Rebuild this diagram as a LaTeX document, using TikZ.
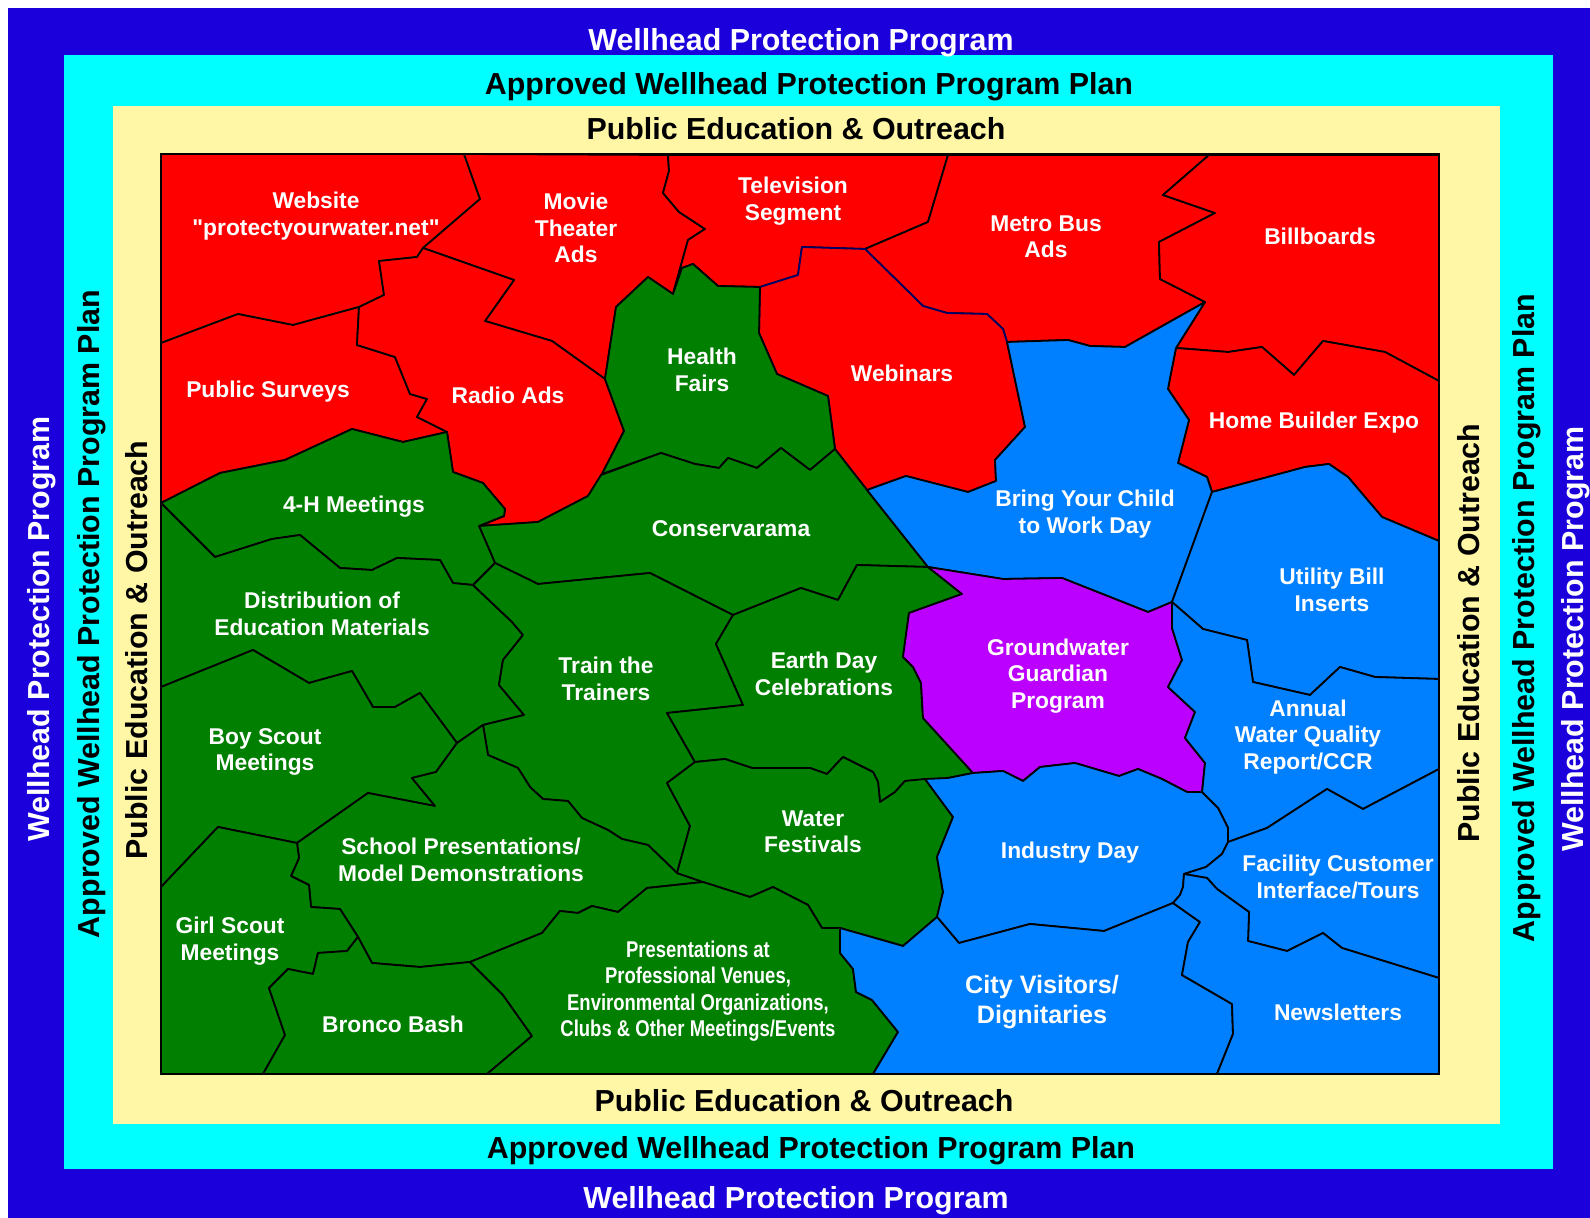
\documentclass[tikz,border=0pt]{standalone}
\usepackage{fontspec}
\setmainfont{Liberation Sans}
\newfontfamily\narrowsans[FakeStretch=0.81]{Liberation Sans}

\definecolor{wppblue}{HTML}{1B00DC}
\definecolor{plancyan}{HTML}{00FFFF}
\definecolor{pubyellow}{HTML}{FFF7A6}
\definecolor{mapred}{HTML}{FF0000}
\definecolor{mapgreen}{HTML}{007F00}
\definecolor{mapblue}{HTML}{0080FF}
\definecolor{mappurple}{HTML}{BB00FF}

\begin{document}
\begin{tikzpicture}[x=0.5pt,y=-0.5pt,
  zone/.style={draw=black, line width=0.9pt, line join=round},
  redzone/.style={zone, fill=mapred},
  greenzone/.style={zone, fill=mapgreen},
  bluezone/.style={zone, fill=mapblue},
  lbl/.style={text=white, font=\bfseries\fontsize{11.4}{13.2}\selectfont, align=center, inner sep=0pt},
  band/.style={font=\bfseries\fontsize{15.2}{18}\selectfont, inner sep=0pt}]
\useasboundingbox (0,0) rectangle (1590,1218);

% nested program frames
\fill[wppblue] (8,8) rectangle (1590,1218);
\fill[plancyan] (64,55) rectangle (1553,1169);
\fill[pubyellow] (113,106) rectangle (1500,1124);

\node[band, text=white] (wpptop) at (801,43) {Wellhead Protection Program};
\node[band, text=white] (wppbot) at (796,1201) {Wellhead Protection Program};
\node[band, text=white, rotate=90] (wppleft) at (42,629) {Wellhead Protection Program};
\node[band, text=white, rotate=90] (wppright) at (1576,639) {Wellhead Protection Program};
\node[band] (plantop) at (809,87) {Approved Wellhead Protection Program Plan};
\node[band] (planbot) at (811,1151) {Approved Wellhead Protection Program Plan};
\node[band, rotate=90] (planleft) at (92,614) {Approved Wellhead Protection Program Plan};
\node[band, rotate=90] (planright) at (1527,618) {Approved Wellhead Protection Program Plan};
\node[band] (pubtop) at (796,129) {Public Education \& Outreach};
\node[band] (pubbot) at (804,1101) {Public Education \& Outreach};
\node[band, rotate=90] (publeft) at (137,650) {Public Education \& Outreach};
\node[band, rotate=90] (pubright) at (1469,633) {Public Education \& Outreach};

% media (red)
\filldraw[redzone, draw=green!35!black] (161,154) -- (464,154) -- (480,199) -- (423,248) -- (417,257) -- (379,261) -- (384,295) -- (359,307) -- (293,325) -- (238,314) -- (161,343) -- cycle;
\filldraw[redzone] (464,154) -- (668,155) -- (669,171) -- (663,193) -- (679,212) -- (705,229) -- (688,240) -- (673,294) -- (648,277) -- (616,307) -- (605,379) -- (552,341) -- (485,321) -- (514,280) -- (423,248) -- (480,199) -- cycle;
\filldraw[redzone] (668,155) -- (948,155) -- (928,222) -- (865,249) -- (802,247) -- (798,275) -- (760,287) -- (718,286) -- (693,264) -- (682,268) -- (673,294) -- (688,240) -- (705,229) -- (679,212) -- (663,193) -- (669,171) -- cycle;
\filldraw[redzone] (948,155) -- (1209,155) -- (1163,195) -- (1215,213) -- (1159,242) -- (1160,279) -- (1205,302) -- (1125,347) -- (1090,346) -- (1068,340) -- (1007,342) -- (1003,329) -- (987,314) -- (947,313) -- (923,306) -- (865,249) -- (928,222) -- cycle;
\filldraw[redzone] (1209,155) -- (1439,155) -- (1439,381) -- (1385,352) -- (1323,341) -- (1294,375) -- (1262,347) -- (1228,352) -- (1176,348) -- (1205,302) -- (1160,279) -- (1159,242) -- (1215,213) -- (1163,195) -- cycle;
\filldraw[redzone] (161,343) -- (238,314) -- (293,325) -- (359,307) -- (357,345) -- (395,357) -- (410,394) -- (427,399) -- (417,417) -- (447,432) -- (403,442) -- (352,429) -- (285,460) -- (220,473) -- (161,503) -- cycle;
\filldraw[redzone] (359,307) -- (384,295) -- (379,261) -- (417,257) -- (423,248) -- (514,280) -- (485,321) -- (552,341) -- (605,379) -- (624,431) -- (602,474) -- (588,496) -- (538,522) -- (480,526) -- (504,516) -- (505,509) -- (483,483) -- (453,472) -- (447,432) -- (417,417) -- (427,399) -- (410,394) -- (395,357) -- (357,345) -- cycle;
\filldraw[redzone, draw=blue!40!black] (760,287) -- (798,275) -- (802,247) -- (865,249) -- (923,306) -- (947,313) -- (987,314) -- (1003,329) -- (1007,342) -- (1025,427) -- (995,460) -- (996,481) -- (968,492) -- (906,476) -- (867,490) -- (835,449) -- (828,396) -- (777,374) -- (759,333) -- cycle;
\filldraw[redzone] (1176,348) -- (1228,352) -- (1262,347) -- (1294,375) -- (1323,341) -- (1385,352) -- (1439,381) -- (1439,541) -- (1382,517) -- (1348,477) -- (1329,464) -- (1305,467) -- (1212,492) -- (1207,477) -- (1178,463) -- (1189,420) -- (1168,389) -- (1170,378) -- cycle;

% events (green)
\filldraw[greenzone] (673,294) -- (682,268) -- (693,264) -- (718,286) -- (760,287) -- (759,333) -- (777,374) -- (828,396) -- (835,449) -- (810,470) -- (781,448) -- (757,468) -- (728,458) -- (719,468) -- (695,464) -- (661,453) -- (602,474) -- (624,431) -- (605,379) -- (616,307) -- (648,277) -- cycle;
\filldraw[greenzone] (601,475) -- (661,453) -- (695,464) -- (719,468) -- (728,458) -- (757,468) -- (781,448) -- (810,470) -- (835,449) -- (867,490) -- (928,567) -- (857,565) -- (838,600) -- (801,588) -- (733,615) -- (650,573) -- (538,584) -- (495,563) -- (479,526) -- (538,522) -- (588,496) -- cycle;
\filldraw[greenzone] (161,503) -- (220,473) -- (285,460) -- (352,429) -- (403,442) -- (447,432) -- (453,472) -- (483,483) -- (505,509) -- (504,516) -- (479,526) -- (495,563) -- (473,585) -- (453,583) -- (440,560) -- (397,558) -- (372,570) -- (340,568) -- (300,535) -- (272,539) -- (215,557) -- cycle;
\filldraw[greenzone] (161,503) -- (215,557) -- (272,539) -- (300,535) -- (340,568) -- (372,570) -- (397,558) -- (440,560) -- (453,583) -- (473,585) -- (512,622) -- (523,635) -- (503,660) -- (499,685) -- (524,715) -- (483,725) -- (457,743) -- (420,693) -- (395,707) -- (373,707) -- (352,671) -- (309,683) -- (253,650) -- (161,687) -- cycle;
\filldraw[greenzone] (473,585) -- (495,563) -- (538,584) -- (650,573) -- (733,615) -- (716,644) -- (743,705) -- (667,713) -- (695,762) -- (667,783) -- (690,826) -- (677,873) -- (648,845) -- (622,839) -- (608,830) -- (582,818) -- (568,801) -- (543,799) -- (530,787) -- (518,768) -- (488,755) -- (483,725) -- (524,715) -- (499,685) -- (503,660) -- (523,635) -- (512,622) -- cycle;
\filldraw[greenzone] (733,615) -- (801,588) -- (838,600) -- (857,565) -- (928,567) -- (962,594) -- (909,613) -- (903,657) -- (913,667) -- (921,683) -- (923,718) -- (973,773) -- (948,778) -- (905,781) -- (895,792) -- (880,802) -- (878,782) -- (873,772) -- (843,757) -- (827,774) -- (810,768) -- (752,768) -- (725,759) -- (695,762) -- (667,713) -- (743,705) -- (716,644) -- cycle;
\filldraw[greenzone] (161,687) -- (253,650) -- (309,683) -- (352,671) -- (373,707) -- (395,707) -- (420,693) -- (457,743) -- (436,772) -- (412,778) -- (435,806) -- (368,793) -- (297,843) -- (218,827) -- (161,887) -- cycle;
\filldraw[greenzone] (297,843) -- (368,793) -- (435,806) -- (412,778) -- (436,772) -- (457,743) -- (483,725) -- (488,755) -- (518,768) -- (530,787) -- (543,799) -- (568,801) -- (582,818) -- (608,830) -- (622,839) -- (648,845) -- (677,873) -- (703,882) -- (647,888) -- (618,912) -- (592,906) -- (578,913) -- (560,911) -- (542,933) -- (470,962) -- (420,967) -- (372,963) -- (358,937) -- (340,909) -- (311,907) -- (309,885) -- (291,876) -- (299,858) -- cycle;
\filldraw[greenzone] (667,783) -- (695,762) -- (725,759) -- (752,768) -- (810,768) -- (827,774) -- (843,757) -- (873,772) -- (878,782) -- (880,802) -- (895,792) -- (905,781) -- (925,779) -- (953,817) -- (937,857) -- (943,892) -- (937,917) -- (903,946) -- (840,928) -- (822,928) -- (808,905) -- (773,887) -- (750,897) -- (703,882) -- (677,873) -- (690,826) -- cycle;
\filldraw[greenzone] (161,887) -- (218,827) -- (297,843) -- (299,858) -- (291,876) -- (309,885) -- (311,907) -- (340,909) -- (358,937) -- (347,951) -- (318,953) -- (313,974) -- (288,969) -- (269,988) -- (285,1035) -- (263,1074) -- (161,1074) -- cycle;
\filldraw[greenzone] (358,937) -- (372,963) -- (420,967) -- (470,962) -- (503,995) -- (532,1036) -- (487,1074) -- (263,1074) -- (285,1035) -- (269,988) -- (288,969) -- (313,974) -- (318,953) -- (347,951) -- cycle;
\filldraw[greenzone] (470,962) -- (542,933) -- (560,911) -- (578,913) -- (592,906) -- (618,912) -- (647,888) -- (703,882) -- (750,897) -- (773,887) -- (808,905) -- (822,928) -- (840,928) -- (840,953) -- (853,969) -- (856,992) -- (872,1000) -- (898,1032) -- (873,1074) -- (487,1074) -- (532,1036) -- (503,995) -- cycle;

% direct contact (blue) and the guardian program
\filldraw[bluezone] (1007,342) -- (1068,340) -- (1090,346) -- (1125,347) -- (1205,302) -- (1176,348) -- (1170,378) -- (1168,389) -- (1189,420) -- (1178,463) -- (1207,477) -- (1212,492) -- (1172,602) -- (1148,612) -- (1062,578) -- (1003,579) -- (928,567) -- (867,490) -- (906,476) -- (968,492) -- (996,481) -- (995,460) -- (1025,427) -- cycle;
\filldraw[bluezone] (1212,492) -- (1305,467) -- (1329,464) -- (1348,477) -- (1382,517) -- (1439,541) -- (1439,679) -- (1375,677) -- (1340,667) -- (1310,695) -- (1253,682) -- (1247,640) -- (1203,629) -- (1172,602) -- cycle;
\filldraw[zone, fill=mappurple] (928,567) -- (1003,579) -- (1062,578) -- (1148,612) -- (1172,602) -- (1172,628) -- (1182,660) -- (1168,687) -- (1195,712) -- (1185,738) -- (1205,763) -- (1202,792) -- (1187,792) -- (1162,779) -- (1138,769) -- (1119,776) -- (1075,763) -- (1040,767) -- (1023,781) -- (1003,771) -- (973,773) -- (923,718) -- (921,683) -- (913,667) -- (903,657) -- (909,613) -- (962,594) -- cycle;
\filldraw[bluezone] (1172,602) -- (1203,629) -- (1247,640) -- (1253,682) -- (1310,695) -- (1340,667) -- (1375,677) -- (1439,679) -- (1439,769) -- (1363,809) -- (1327,789) -- (1267,828) -- (1228,842) -- (1228,828) -- (1218,808) -- (1202,793) -- (1205,763) -- (1185,738) -- (1195,712) -- (1168,687) -- (1182,660) -- (1172,628) -- cycle;
\filldraw[bluezone] (925,779) -- (948,778) -- (973,773) -- (1003,771) -- (1023,781) -- (1040,767) -- (1075,763) -- (1119,776) -- (1138,769) -- (1162,779) -- (1187,792) -- (1202,792) -- (1218,808) -- (1228,828) -- (1228,842) -- (1222,854) -- (1206,867) -- (1184,874) -- (1183,887) -- (1180,895) -- (1173,903) -- (1104,931) -- (1030,924) -- (959,943) -- (937,917) -- (943,892) -- (937,857) -- (953,817) -- cycle;
\filldraw[bluezone] (1228,842) -- (1267,828) -- (1327,789) -- (1363,809) -- (1439,769) -- (1439,978) -- (1342,948) -- (1323,933) -- (1287,951) -- (1248,941) -- (1249,912) -- (1217,889) -- (1207,878) -- (1184,874) -- (1206,867) -- (1222,854) -- cycle;
\filldraw[bluezone] (840,928) -- (903,946) -- (937,917) -- (959,943) -- (1030,924) -- (1104,931) -- (1173,903) -- (1200,922) -- (1188,942) -- (1182,975) -- (1232,1004) -- (1233,1034) -- (1217,1074) -- (873,1074) -- (898,1032) -- (872,1000) -- (856,992) -- (853,969) -- (840,953) -- cycle;
\filldraw[bluezone] (1184,874) -- (1207,878) -- (1217,889) -- (1249,912) -- (1248,941) -- (1287,951) -- (1323,933) -- (1342,948) -- (1439,978) -- (1439,1074) -- (1217,1074) -- (1233,1034) -- (1232,1004) -- (1182,975) -- (1188,942) -- (1200,922) -- (1173,903) -- (1180,895) -- (1183,887) -- cycle;

\draw[line width=1.3pt] (161,154) rectangle (1439,1074);

% labels
\node[lbl] (website) at (316,216) {Website\\\textquotedbl protectyourwater.net\textquotedbl};
\node[lbl] (movie) at (576,228) {Movie\\Theater\\Ads};
\node[lbl] (tv) at (793,201) {Television\\Segment};
\node[lbl] (metro) at (1046,237) {Metro Bus\\Ads};
\node[lbl] (billboards) at (1320,236) {Billboards};
\node[lbl] (surveys) at (268,392) {Public Surveys};
\node[lbl] (radio) at (508,395) {Radio Ads};
\node[lbl] (health) at (702,370) {Health\\Fairs};
\node[lbl] (webinars) at (902,373) {Webinars};
\node[lbl] (expo) at (1314,423) {Home Builder Expo};
\node[lbl] (child) at (1085,514) {Bring Your Child\\to Work Day};
\node[lbl] (fourh) at (354,507) {4-H Meetings};
\node[lbl] (conservarama) at (731,529) {Conservarama};
\node[lbl] (utility) at (1332,590) {Utility Bill\\Inserts};
\node[lbl] (distribution) at (322,614) {Distribution of\\Education Materials};
\node[lbl] (trainers) at (606,679) {Train the\\Trainers};
\node[lbl] (earthday) at (824,674) {Earth Day\\Celebrations};
\node[lbl] (guardian) at (1058,676) {Groundwater\\Guardian\\Program};
\node[lbl] (boyscout) at (265,752) {Boy Scout\\Meetings};
\node[lbl] (ccr) at (1308,737) {Annual\\Water Quality\\Report/CCR};
\node[lbl] (school) at (461,860) {School Presentations/\\Model Demonstrations};
\node[lbl] (festivals) at (813,832) {Water\\Festivals};
\node[lbl] (industry) at (1070,853) {Industry Day};
\node[lbl] (facility) at (1338,877) {Facility Customer\\Interface/Tours};
\node[lbl] (girlscout) at (230,941) {Girl Scout\\Meetings};
\node[lbl] (bronco) at (393,1024) {Bronco Bash};
\node[lbl, font=\narrowsans\bfseries\fontsize{11.4}{13.2}\selectfont] (venues) at (698,991) {Presentations at\\Professional Venues,\\Environmental Organizations,\\Clubs \& Other Meetings/Events};
\node[lbl, font=\bfseries\fontsize{12.6}{14.7}\selectfont] (visitors) at (1042,1002) {City Visitors/\\Dignitaries};
\node[lbl] (newsletters) at (1338,1012) {Newsletters};
\end{tikzpicture}
\end{document}
